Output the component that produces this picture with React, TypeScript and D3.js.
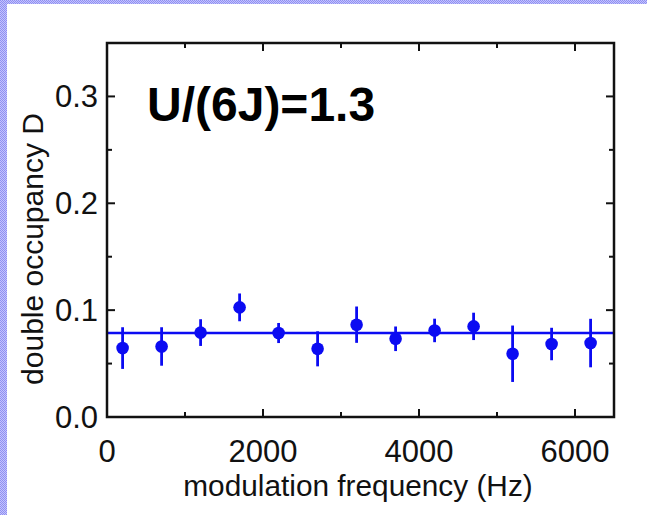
import React from "react";
import * as d3 from "d3";

// modulation frequency (Hz)
const freqs = [200, 700, 1200, 1700, 2200, 2700, 3200, 3700, 4200, 4700, 5200, 5700, 6200];
// double occupancy D
const occupancy = [0.0645, 0.066, 0.079, 0.1026, 0.0786, 0.0638, 0.0864, 0.0732, 0.081, 0.0848, 0.0592, 0.0683, 0.0692];
const errors = [0.0195, 0.018, 0.0125, 0.013, 0.0094, 0.0164, 0.017, 0.0115, 0.011, 0.0128, 0.0264, 0.0152, 0.0227];
const meanLevel = 0.0786;

const xTicks = [0, 2000, 4000, 6000];
const xMinor = [1000, 3000, 5000];
const yTicks = [0, 0.1, 0.2, 0.3];
const yMinor = [0.05, 0.15, 0.25];

const W = 647;
const H = 515;
const margin = { top: 43, right: 33, bottom: 98, left: 107 };
const blue = "#0b0bf2";
const font = "'Liberation Sans', Arial, sans-serif";

export default function App() {
    const x = d3.scaleLinear().domain([0, 6500]).range([margin.left, W - margin.right]);
    const y = d3.scaleLinear().domain([0, 0.35]).range([H - margin.bottom, margin.top]);
    const [x0, x1] = x.range();
    const [y0, y1] = y.range();
    const pts = freqs.map((f, i) => ({ f, v: occupancy[i], e: errors[i] }));

    return (
        <svg width={W} height={H} style={{ position: "absolute", left: 0, top: 0, background: "#fff" }}>
            <defs>
                <pattern id="chk" width="2" height="2" patternUnits="userSpaceOnUse">
                    <rect width="2" height="2" fill="#c4c4fb" />
                    <rect width="1" height="1" fill="#8f8ff3" />
                    <rect x="1" y="1" width="1" height="1" fill="#8f8ff3" />
                </pattern>
            </defs>
            <rect x={0} y={0} width={W} height={4} fill="url(#chk)" />
            <rect x={0} y={0} width={7} height={H} fill="url(#chk)" />

            {/* data */}
            <line x1={x0} x2={x1} y1={y(meanLevel)} y2={y(meanLevel)} stroke={blue} strokeWidth={2.6} />
            {pts.map((d) => (
                <g key={d.f}>
                    <line x1={x(d.f)} x2={x(d.f)} y1={y(d.v - d.e)} y2={y(d.v + d.e)} stroke={blue} strokeWidth={2.8} />
                    <circle cx={x(d.f)} cy={y(d.v)} r={6.3} fill={blue} />
                </g>
            ))}

            {/* frame and ticks */}
            <rect x={x0} y={y1} width={x1 - x0} height={y0 - y1} fill="none" stroke="#111" strokeWidth={2.5} />
            {xTicks.concat(xMinor).map((t) => {
                const len = xTicks.includes(t) ? 8 : 5;
                return (
                    <g key={"x" + t} stroke="#111" strokeWidth={2}>
                        <line x1={x(t)} x2={x(t)} y1={y0} y2={y0 - len} />
                        <line x1={x(t)} x2={x(t)} y1={y1} y2={y1 + len} />
                    </g>
                );
            })}
            {yTicks.concat(yMinor).map((t) => {
                const len = yTicks.includes(t) ? 8 : 5;
                return (
                    <g key={"y" + t} stroke="#111" strokeWidth={2}>
                        <line x1={x0} x2={x0 + len} y1={y(t)} y2={y(t)} />
                        <line x1={x1} x2={x1 - len} y1={y(t)} y2={y(t)} />
                    </g>
                );
            })}
            {xTicks.map((t) => (
                <text key={"xl" + t} x={x(t)} y={462} textAnchor="middle" fontFamily={font} fontSize={31} fill="#111">
                    {t}
                </text>
            ))}
            {yTicks.map((t) => (
                <text key={"yl" + t} x={98} y={y(t) + 11} textAnchor="end" fontFamily={font} fontSize={31} fill="#111">
                    {d3.format(".1f")(t)}
                </text>
            ))}

            <text x={358} y={496} textAnchor="middle" fontFamily={font} fontSize={29.8} fill="#111">
                modulation frequency (Hz)
            </text>
            <text
                transform={`translate(43,249) rotate(-90)`}
                textAnchor="middle"
                fontFamily={font}
                fontSize={30}
                fill="#111"
            >
                double occupancy D
            </text>
            <text x={147} y={121} fontFamily={font} fontSize={48} fontWeight="bold" fill="#000">
                U/(6J)=1.3
            </text>
        </svg>
    );
}
